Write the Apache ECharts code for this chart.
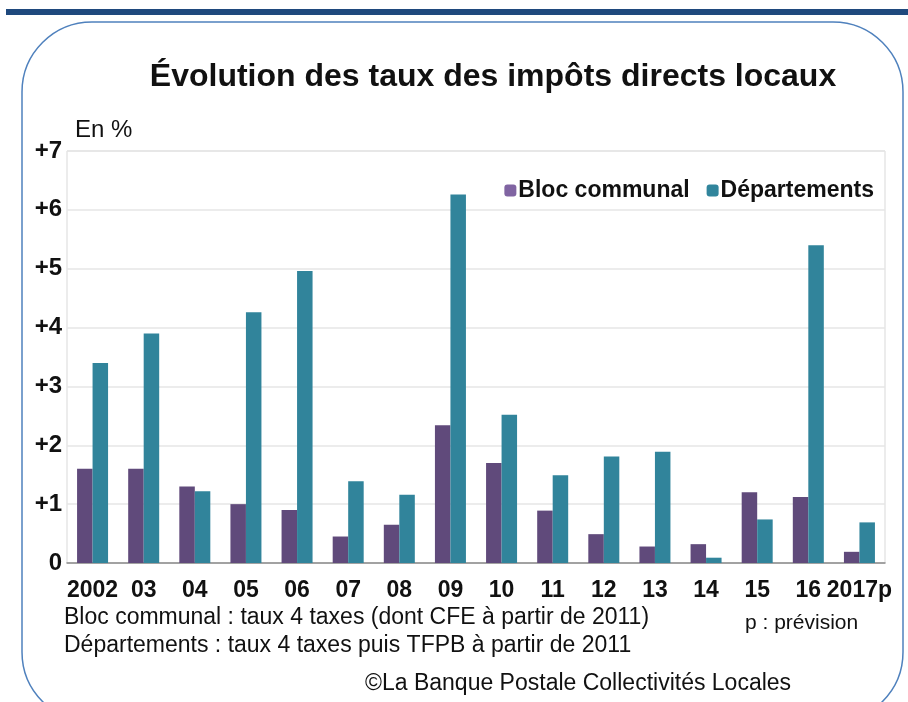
<!DOCTYPE html>
<html>
<head>
<meta charset="utf-8">
<script src="https://cdn.jsdelivr.net/npm/echarts@6/dist/echarts.min.js"></script>
<style>
	html, body { margin: 0; padding: 0; background: #fff; }
	#chart { width: 908px; height: 702px; }
</style>
</head>
<body>
<div id="chart"></div>
<script>
	// categories and values (en %)
	var years = ['2002', '03', '04', '05', '06', '07', '08', '09', '10', '11', '12', '13', '14', '15', '16', '2017p'];
	var blocCommunal = [1.6, 1.6, 1.3, 1.0, 0.9, 0.45, 0.65, 2.34, 1.7, 0.89, 0.49, 0.28, 0.32, 1.2, 1.12, 0.19];
	var departements = [3.4, 3.9, 1.22, 4.26, 4.96, 1.39, 1.16, 6.26, 2.52, 1.49, 1.81, 1.89, 0.09, 0.74, 5.4, 0.69];
	var yTicks = ['0', '+1', '+2', '+3', '+4', '+5', '+6', '+7'];

	var font = '"Liberation Sans", Arial, sans-serif';
	var chart = echarts.init(document.getElementById('chart'));

	var option = {
		backgroundColor: '#fff',
		animation: false,
		title: {
			text: 'Évolution des taux des impôts directs locaux',
			left: 488,
			top: 56,
			textAlign: 'center',
			textStyle: {
				fontFamily: font,
				fontSize: 32,
				fontWeight: 'bold',
				color: '#111'
			}
		},
		legend: {
			right: 29,
			top: 174,
			itemWidth: 12,
			itemHeight: 12,
			itemGap: 17,
			textStyle: {
				fontFamily: font,
				fontSize: 23,
				fontWeight: 'bold',
				color: '#111',
				padding: [0, 0, 0, -3]
			},
			data: [
				{ name: 'Bloc communal', itemStyle: { color: '#8064a2' } },
				{ name: 'Départements', itemStyle: { color: '#31859c' } }
			]
		},
		grid: {
			left: 67,
			right: 23,
			top: 151,
			bottom: 139,
			show: true,
			borderColor: '#d9d9d9',
			borderWidth: 1
		},
		xAxis: {
			type: 'category',
			data: years,
			axisLine: { lineStyle: { color: '#8c8c8c', width: 1.5 } },
			axisTick: { show: false },
			axisLabel: {
				interval: 0,
				margin: 16,
				fontFamily: font,
				fontSize: 23,
				fontWeight: 'bold',
				color: '#111'
			}
		},
		yAxis: {
			type: 'value',
			min: 0,
			max: 7,
			interval: 1,
			axisLine: { show: false },
			axisTick: { show: false },
			splitLine: { lineStyle: { color: '#e6e6e6', width: 1.5 } },
			axisLabel: {
				margin: 5,
				fontFamily: font,
				fontSize: 24,
				fontWeight: 'bold',
				color: '#111',
				formatter: function(v) { return yTicks[v]; }
			}
		},
		series: [{
			name: 'Bloc communal',
			type: 'bar',
			data: blocCommunal,
			barWidth: 15.5,
			barGap: '0%',
			itemStyle: { color: '#604a7b' }
		}, {
			name: 'Départements',
			type: 'bar',
			data: departements,
			barWidth: 15.5,
			itemStyle: { color: '#31849b' }
		}],
		graphic: [
			// bandeau bleu en haut
			{ type: 'rect', shape: { x: 6, y: 9, width: 902, height: 6 }, style: { fill: '#1f497d' }, z: -1 },
			// cadre arrondi
			{ type: 'rect', shape: { x: 22, y: 22, width: 881, height: 700, r: 70 }, style: { fill: 'none', stroke: '#4f81bd', lineWidth: 1.5 }, z: -1 },
			{ type: 'text', left: 75, top: 118, style: { text: 'En %', font: '24px ' + font, fill: '#111' } },
			{ type: 'text', left: 64, top: 606, style: { text: 'Bloc communal : taux 4 taxes (dont CFE à partir de 2011)', font: '23px ' + font, fill: '#111' } },
			{ type: 'text', left: 64, top: 634, style: { text: 'Départements : taux 4 taxes puis TFPB à partir de 2011', font: '23px ' + font, fill: '#111' } },
			{ type: 'text', left: 745, top: 613, style: { text: 'p : prévision', font: '21px ' + font, fill: '#111' } },
			{ type: 'text', left: 365, top: 672, style: { text: '©La Banque Postale Collectivités Locales', font: '23px ' + font, fill: '#111' } }
		]
	};

	chart.setOption(option);
</script>
</body>
</html>
